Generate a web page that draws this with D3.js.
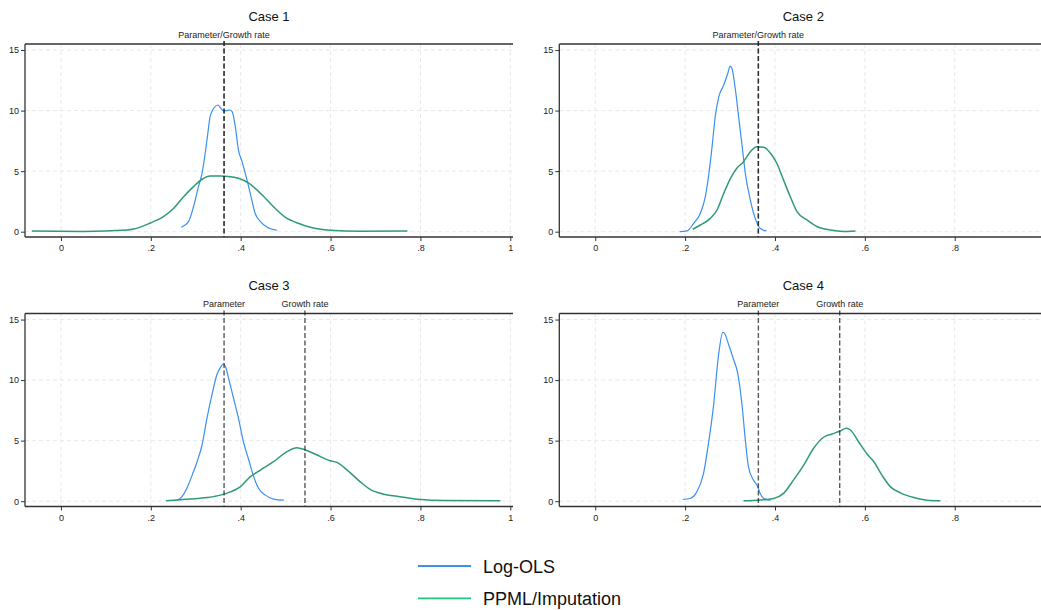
<!DOCTYPE html>
<html>
<head>
<meta charset="utf-8">
<script src="https://cdn.jsdelivr.net/npm/d3@7"></script>
<style>
  body { margin: 0; background: #fff; }
  svg { display: block; font-family: "Liberation Sans", Arial, sans-serif; }
</style>
</head>
<body>
<div id="graph"></div>
<script>
// density estimates, [x, density]
var case1Ols = [[0.268,0.36],[0.284,0.83],[0.295,2.06],[0.306,3.72],[0.314,4.82],[0.325,7.57],[0.332,9.5],[0.340,10.19],[0.349,10.46],[0.356,10.19],[0.362,9.98],[0.368,9.99],[0.375,10.05],[0.381,9.91],[0.388,8.67],[0.395,6.75],[0.403,5.78],[0.414,4.27],[0.423,2.89],[0.432,1.52],[0.444,0.83],[0.459,0.36],[0.481,0.12]];
var case1Ppml = [[-0.065,0.06],[0.05,0.02],[0.147,0.14],[0.162,0.22],[0.199,0.72],[0.228,1.24],[0.251,1.93],[0.273,2.89],[0.295,3.72],[0.314,4.33],[0.332,4.6],[0.355,4.6],[0.377,4.54],[0.395,4.41],[0.418,4.0],[0.444,3.17],[0.473,2.06],[0.503,1.1],[0.525,0.74],[0.555,0.36],[0.599,0.12],[0.666,0.03],[0.771,0.05]];
var case2Ols = [[0.188,0.0],[0.204,0.06],[0.219,0.69],[0.234,1.52],[0.245,2.89],[0.252,4.54],[0.26,7.02],[0.267,9.5],[0.275,11.15],[0.286,12.11],[0.295,13.08],[0.3,13.68],[0.304,13.49],[0.312,11.7],[0.319,9.5],[0.327,7.02],[0.334,4.82],[0.345,2.62],[0.356,1.1],[0.367,0.28],[0.381,0.06]];
var case2Ppml = [[0.217,0.2],[0.234,0.55],[0.256,1.1],[0.271,1.79],[0.286,3.17],[0.301,4.41],[0.315,5.24],[0.33,5.78],[0.345,6.6],[0.36,7.02],[0.375,6.97],[0.39,6.47],[0.404,5.65],[0.419,4.27],[0.434,2.89],[0.449,1.65],[0.471,0.97],[0.494,0.41],[0.523,0.14],[0.553,0.02],[0.579,0.06]];
var case3Ols = [[0.258,0.08],[0.269,0.36],[0.28,1.05],[0.292,2.15],[0.303,3.26],[0.314,4.64],[0.325,6.85],[0.336,8.78],[0.347,10.44],[0.355,11.04],[0.361,11.33],[0.366,11.13],[0.373,10.16],[0.384,8.51],[0.395,6.85],[0.406,4.91],[0.418,3.4],[0.429,2.01],[0.44,1.05],[0.455,0.5],[0.473,0.17],[0.496,0.08]];
var case3Ppml = [[0.234,0.03],[0.288,0.17],[0.325,0.3],[0.355,0.5],[0.377,0.77],[0.399,1.18],[0.421,2.01],[0.444,2.57],[0.473,3.26],[0.503,4.09],[0.525,4.42],[0.544,4.23],[0.57,3.81],[0.599,3.34],[0.614,3.2],[0.637,2.57],[0.666,1.6],[0.688,0.97],[0.718,0.58],[0.748,0.41],[0.8,0.14],[0.852,0.06],[0.978,0.03]];
var case4Ols = [[0.195,0.14],[0.211,0.22],[0.226,0.77],[0.241,2.29],[0.252,4.78],[0.263,7.81],[0.274,11.95],[0.284,13.94],[0.287,13.9],[0.297,12.92],[0.308,11.68],[0.317,10.58],[0.327,7.81],[0.334,5.05],[0.341,2.84],[0.352,1.74],[0.361,1.24],[0.367,0.64],[0.378,0.17],[0.39,0.08]];
var case4Ppml = [[0.33,0.03],[0.367,0.1],[0.397,0.22],[0.419,0.64],[0.441,1.74],[0.464,2.98],[0.486,4.37],[0.508,5.28],[0.527,5.55],[0.545,5.8],[0.559,6.02],[0.568,5.88],[0.586,4.91],[0.605,3.89],[0.62,3.26],[0.638,2.15],[0.657,1.18],[0.679,0.69],[0.709,0.3],[0.738,0.08],[0.768,0.03]];

var caseTitles = ["Case 1", "Case 2", "Case 3", "Case 4"];
var parameterValues = [0.363, 0.363, 0.363, 0.363];
var growthValues = [0.363, 0.363, 0.543, 0.544];
var lineLabels = [["Parameter/Growth rate"], ["Parameter/Growth rate"], ["Parameter", "Growth rate"], ["Parameter", "Growth rate"]];
var xTicks = [0, 0.2, 0.4, 0.6, 0.8, 1];
var xTickLabels = ["0", ".2", ".4", ".6", ".8", "1"];
var yTicks = [0, 5, 10, 15];
var seriesNames = ["Log-OLS", "PPML/Imputation"];

var olsData = [case1Ols, case2Ols, case3Ols, case4Ols];
var ppmlData = [case1Ppml, case2Ppml, case3Ppml, case4Ppml];

var width = 1041, height = 610;
var pw = 488, ph = 193;
var offsets = [[25, 44], [559.3, 44], [25, 313.5], [559.3, 313.5]];
var blue = "#3b8ff2", green = "#2f9b72", legendGreen = "#22c47f";

var svg = d3.select("#graph").append("svg")
    .attr("width", width)
    .attr("height", height);

var x = d3.scaleLinear().domain([-0.08, 1.006]).range([0, pw]);
var y = d3.scaleLinear().domain([-0.44, 15.5]).range([ph, 0]);

var line = d3.line()
    .x(function (d) { return x(d[0]); })
    .y(function (d) { return y(d[1]); })
    .curve(d3.curveMonotoneX);

caseTitles.forEach(function (title, i) {
    var g = svg.append("g")
        .attr("transform", "translate(" + offsets[i][0] + "," + offsets[i][1] + ")");

    // the right-hand panels run past the edge of the picture
    var shownTicks = xTicks.filter(function (d) { return offsets[i][0] + x(d) < width - 3; });

    // grid
    g.selectAll(".vgrid").data(xTicks).enter().append("line")
        .attr("x1", function (d) { return x(d); })
        .attr("x2", function (d) { return x(d); })
        .attr("y1", 0).attr("y2", ph)
        .attr("stroke", "#e8e8e8").attr("stroke-dasharray", "4,3");
    g.selectAll(".hgrid").data(yTicks).enter().append("line")
        .attr("x1", 0).attr("x2", pw)
        .attr("y1", function (d) { return y(d); })
        .attr("y2", function (d) { return y(d); })
        .attr("stroke", "#e8e8e8").attr("stroke-dasharray", "4,3");

    // axes
    var xAxis = g.append("g")
        .attr("transform", "translate(0," + ph + ")")
        .call(d3.axisBottom(x).tickValues(shownTicks).tickSize(4).tickPadding(4)
            .tickFormat(function (d) { return xTickLabels[xTicks.indexOf(d)]; }));
    var yAxis = g.append("g")
        .call(d3.axisLeft(y).tickValues(yTicks).tickSize(4).tickPadding(2));
    [xAxis, yAxis].forEach(function (a) {
        a.select(".domain").remove();
        a.selectAll(".tick line").attr("stroke", "#333");
        a.selectAll("text").attr("fill", "#222").style("font-size", "9px")
            .style("font-family", "'Liberation Sans', Arial, sans-serif");
    });
    g.append("line").attr("x1", 0).attr("x2", pw).attr("y1", ph).attr("y2", ph)
        .attr("stroke", "#333").attr("stroke-width", 1.3);
    g.append("line").attr("x1", 0).attr("x2", 0).attr("y1", 0).attr("y2", ph)
        .attr("stroke", "#333").attr("stroke-width", 1.3);
    g.append("line").attr("x1", 0).attr("x2", pw).attr("y1", 0).attr("y2", 0)
        .attr("stroke", "#333").attr("stroke-width", 1.3);

    // title
    svg.append("text")
        .attr("x", offsets[i][0] + pw / 2)
        .attr("y", offsets[i][1] - 23.5)
        .attr("text-anchor", "middle")
        .attr("fill", "#111")
        .style("font-size", "13px")
        .text(title);

    // curves
    g.append("path").datum(olsData[i])
        .attr("d", line).attr("fill", "none")
        .attr("stroke", blue).attr("stroke-width", 1.2);
    g.append("path").datum(ppmlData[i])
        .attr("d", line).attr("fill", "none")
        .attr("stroke", green).attr("stroke-width", 1.5);

    // reference lines
    [parameterValues[i], growthValues[i]].forEach(function (v) {
        g.append("line")
            .attr("x1", x(v)).attr("x2", x(v))
            .attr("y1", -3).attr("y2", ph)
            .attr("stroke", "#222").attr("stroke-opacity", 0.75)
            .attr("stroke-width", 1.4)
            .attr("stroke-dasharray", "5,2.5");
    });
    var labelPos = lineLabels[i].length === 1 ? [parameterValues[i]] : [parameterValues[i], growthValues[i]];
    lineLabels[i].forEach(function (lab, k) {
        g.append("text")
            .attr("x", x(labelPos[k]))
            .attr("y", -6.5)
            .attr("text-anchor", "middle")
            .attr("fill", "#222")
            .style("font-size", "9px")
            .text(lab);
    });
});

// legend
var legend = svg.append("g");
var legendColors = [blue, legendGreen];
seriesNames.forEach(function (name, k) {
    var ly = 566 + k * 32.3;
    legend.append("line")
        .attr("x1", 418).attr("x2", 471)
        .attr("y1", ly).attr("y2", ly)
        .attr("stroke", legendColors[k]).attr("stroke-width", 1.8);
    legend.append("text")
        .attr("x", 483).attr("y", ly + 6.5)
        .attr("fill", "#111")
        .style("font-size", "18px")
        .text(name);
});
</script>
</body>
</html>
